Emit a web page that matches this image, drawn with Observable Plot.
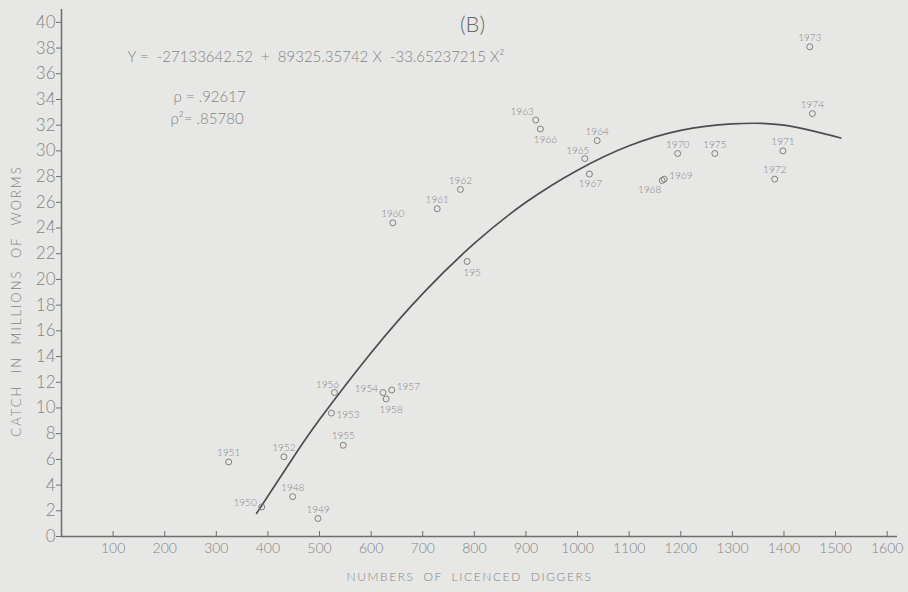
<!DOCTYPE html>
<html><head><meta charset="utf-8">
<script src="https://cdn.jsdelivr.net/npm/d3@7"></script>
<script src="https://cdn.jsdelivr.net/npm/@observablehq/plot@0.6"></script>
<style>
html,body{margin:0;padding:0;background:#e7e7e5;}
#chart svg{display:block;}
</style></head><body><div id="chart"></div>
<script>
// Year labels as printed on the chart
const years = ["1948","1949","1950","1951","1952","1953","1954","1955","1956","1957","1958","195","1960","1961","1962","1963","1964","1965","1966","1967","1968","1969","1970","1971","1972","1973","1974","1975"];
// Number of licenced diggers
const diggers = [448,497,388,324,431,523,623,546,529,640,629,786,642,728,773,919,1038,1014,928,1023,1164,1168,1194,1398,1382,1450,1455,1266];
// Catch in millions of worms
const catchM = [3.1,1.4,2.3,5.8,6.2,9.6,11.2,7.1,11.2,11.4,10.7,21.4,24.4,25.5,27.0,32.4,30.8,29.4,31.7,28.2,27.7,27.8,29.8,30.0,27.8,38.1,32.9,29.8];
// where each year label sits relative to its point
const labelPos = ["above","above","left","above","above","rightLow","left","above","aboveLeft","right","below","below","above","above","above","upLeft","above","aboveLeft","below","belowC","belowLeft","right","above","above","above","above","above","above"];

// fitted quadratic curve
const fitX = [378,450,500,600,700,800,900,1000,1100,1200,1300,1400,1510];
const fitY = [1.8,6.2,9.1,14.3,18.9,22.8,26.0,28.5,30.4,31.6,32.1,32.0,31.0];

const xTicks = [100,200,300,400,500,600,700,800,900,1000,1100,1200,1300,1400,1500,1600];
const yTicks = [0,2,4,6,8,10,12,14,16,18,20,22,24,26,28,30,32,34,36,38,40];

const panelLabel = "(B)";
const equation = "Y =\u00a0 -27133642.52\u00a0 +\u00a0 89325.35742 X\u00a0 -33.65237215 X\u00b2";
const rhoText = "\u03c1 = .92617";
const rho2Text = "\u03c1\u00b2= .85780";
const xTitle = "NUMBERS OF LICENCED DIGGERS";
const yTitle = "CATCH IN MILLIONS OF WORMS";

const points = years.map((yr, i) => ({year: yr, x: diggers[i], y: catchM[i], pos: labelPos[i]}));
const fit = fitX.map((x, i) => ({x, y: fitY[i]}));

const textCol = "#858585";
const axisCol = "#6e6e6e";
const font = "Lato, 'Open Sans', 'Liberation Sans', sans-serif";

const posStyle = {
  above:     {dx: 0,  dy: -9, textAnchor: "middle"},
  below:     {dx: 5,  dy: 11, textAnchor: "middle"},
  belowC:    {dx: 1,  dy: 10, textAnchor: "middle"},
  left:      {dx: -5, dy: -4, textAnchor: "end"},
  right:     {dx: 5,  dy: -3, textAnchor: "start"},
  rightLow:  {dx: 5,  dy: 2,  textAnchor: "start"},
  aboveLeft: {dx: -7, dy: -8, textAnchor: "middle"},
  upLeft:    {dx: -2, dy: -8, textAnchor: "end"},
  belowLeft: {dx: -1, dy: 9,  textAnchor: "end"}
};

const labelMarks = Object.entries(posStyle).map(([k, s]) =>
  Plot.text(points.filter(d => d.pos === k), {
    x: "x", y: "y", text: "year", fontSize: 10, fill: textCol, ...s
  })
);

const chart = Plot.plot({
  width: 908, height: 592,
  marginLeft: 61, marginRight: 11, marginTop: 9, marginBottom: 56,
  style: {background: "transparent", fontFamily: font, color: textCol},
  x: {domain: [0, 1620]},
  y: {domain: [0, 41]},
  marks: [
    Plot.axisY({ticks: yTicks, tickSize: 5, tickPadding: 1, fontSize: 17, label: null, stroke: axisCol, fill: textCol}),
    Plot.axisX({ticks: xTicks, tickSize: -5, tickPadding: 12, tickFormat: d => String(d), fontSize: 14, label: null, stroke: axisCol, fill: textCol}),
    Plot.ruleX([0], {stroke: axisCol, strokeWidth: 1.5}),
    Plot.ruleY([0], {stroke: axisCol, strokeWidth: 1.5}),
    Plot.line(fit, {x: "x", y: "y", curve: "natural", stroke: "#4d4d4d", strokeWidth: 1.7}),
    Plot.dot(points, {x: "x", y: "y", r: 3, stroke: "#808080", strokeWidth: 1}),
    ...labelMarks,
    Plot.text([panelLabel], {frameAnchor: "top-left", dx: 411, dy: 15, lineAnchor: "middle", textAnchor: "middle", fontSize: 22, fill: "#6a6a6a"}),
    Plot.text([equation], {frameAnchor: "top-left", dx: 66, dy: 48, lineAnchor: "middle", textAnchor: "start", fontSize: 15, fill: textCol}),
    Plot.text([rhoText], {frameAnchor: "top-left", dx: 112, dy: 88, lineAnchor: "middle", textAnchor: "start", fontSize: 15, fill: textCol}),
    Plot.text([rho2Text], {frameAnchor: "top-left", dx: 109, dy: 110, lineAnchor: "middle", textAnchor: "start", fontSize: 15, fill: textCol}),
    Plot.text([xTitle], {frameAnchor: "bottom", dx: -10, dy: 41, lineAnchor: "middle", textAnchor: "middle", fontSize: 12, fill: textCol}),
    Plot.text([yTitle], {frameAnchor: "left", dx: -45, dy: 28, rotate: -90, lineAnchor: "middle", textAnchor: "middle", fontSize: 13, fill: textCol})
  ]
});

d3.select(chart).selectAll("text").attr("font-weight", 300);
d3.select(chart).selectAll("text").filter(function() { return this.textContent === xTitle; })
  .attr("letter-spacing", 1.6).attr("word-spacing", 4);
d3.select(chart).selectAll("text").filter(function() { return this.textContent === yTitle; })
  .attr("letter-spacing", 2).attr("word-spacing", 6);
document.getElementById("chart").appendChild(chart);
</script>
</body></html>
